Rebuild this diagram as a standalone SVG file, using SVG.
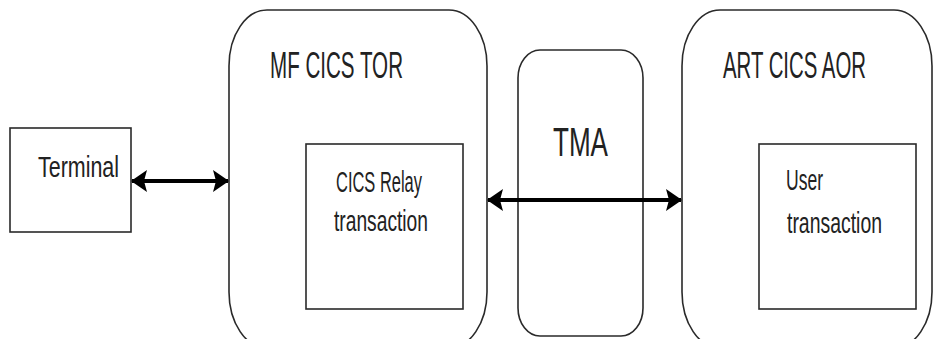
<svg xmlns="http://www.w3.org/2000/svg" width="934" height="339" viewBox="0 0 934 339">
<style>
.box{fill:#fff;stroke:#2a2a2a;stroke-width:1.6}
.t{font-family:"Liberation Sans",Arial,sans-serif;fill:#222}
.conn{stroke:#000;stroke-width:4;fill:none}
</style>
<defs>
<marker id="ah" viewBox="0 0 16 22" refX="15" refY="11" markerWidth="16" markerHeight="22" markerUnits="userSpaceOnUse" orient="auto-start-reverse">
<path d="M0,0 L16,11 L0,22 L3,11 Z" fill="#000"/>
</marker>
</defs>
<rect width="934" height="339" fill="#fff"/>
<g id="mf-cics-tor">
<rect class="box" x="229" y="10" width="258" height="338" rx="38" ry="56"/>
<text class="t" x="270" y="78" font-size="29" transform="translate(0,-19.5) scale(1,1.25)" textLength="133" lengthAdjust="spacingAndGlyphs">MF CICS TOR</text>
</g>
<g id="cics-relay">
<rect class="box" x="306" y="144" width="157" height="165"/>
<text class="t" x="336" y="192" font-size="29" textLength="86" lengthAdjust="spacingAndGlyphs">CICS Relay</text>
<text class="t" x="334" y="231" font-size="29" textLength="94" lengthAdjust="spacingAndGlyphs">transaction</text>
</g>
<g id="terminal">
<rect class="box" x="10" y="128" width="121" height="104"/>
<text class="t" x="38" y="177" font-size="30" textLength="81" lengthAdjust="spacingAndGlyphs">Terminal</text>
</g>
<g id="tma">
<rect class="box" x="518" y="50" width="125" height="286" rx="22" ry="28"/>
<text class="t" x="553" y="156" font-size="40" textLength="55" lengthAdjust="spacingAndGlyphs">TMA</text>
</g>
<g id="art-cics-aor">
<rect class="box" x="682" y="10" width="250" height="338" rx="38" ry="56"/>
<text class="t" x="723" y="78" font-size="29" transform="translate(0,-19.5) scale(1,1.25)" textLength="143" lengthAdjust="spacingAndGlyphs">ART CICS AOR</text>
</g>
<g id="user-transaction">
<rect class="box" x="759" y="144" width="157" height="165"/>
<text class="t" x="786" y="190" font-size="29" textLength="37" lengthAdjust="spacingAndGlyphs">User</text>
<text class="t" x="787" y="233" font-size="29" textLength="95" lengthAdjust="spacingAndGlyphs">transaction</text>
</g>
<g id="connectors">
<line class="conn" x1="132" y1="181" x2="228" y2="181" marker-start="url(#ah)" marker-end="url(#ah)"/>
<line class="conn" x1="488" y1="200" x2="681" y2="200" marker-start="url(#ah)" marker-end="url(#ah)"/>
</g>
</svg>
